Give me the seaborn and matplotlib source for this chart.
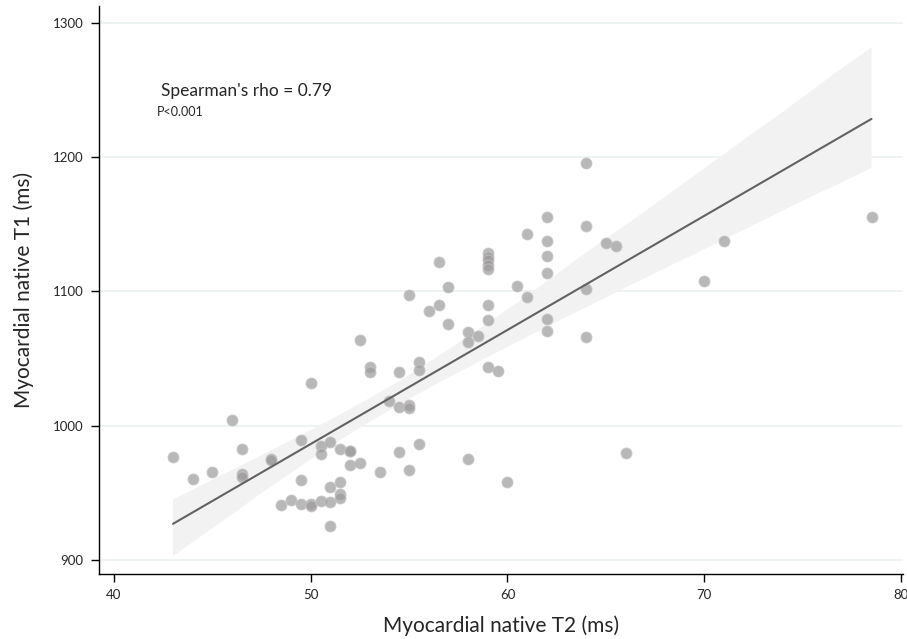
import matplotlib
matplotlib.use('Agg')
import matplotlib.pyplot as plt
import seaborn as sns
import pandas as pd
from matplotlib.collections import PolyCollection

sns.set_style('white')
plt.rcParams['font.family'] = ['Lato', 'DejaVu Sans']

# myocardial native T2 (ms) and T1 (ms)
t2_ms = [43, 44, 45, 46, 46.5, 46.5, 46.5, 48, 48, 48.5, 49, 49.5, 49.5, 49.5,
         50, 50, 50, 50.5, 50.5, 50.5, 51, 51, 51, 51, 51.5, 51.5, 51.5, 51.5,
         52, 52, 52, 52.5, 52.5, 53, 53, 53.5, 54, 54.5, 54.5, 54.5,
         55, 55, 55, 55, 55.5, 55.5, 55.5, 56, 56.5, 56.5, 57, 57,
         58, 58, 58, 58.5, 59, 59, 59, 59, 59, 59, 59, 59, 59.5, 60, 60.5,
         61, 61, 62, 62, 62, 62, 62, 62, 64, 64, 64, 64, 65, 65.5, 66,
         70, 71, 78.5]
t1_ms = [976.5, 960, 965.5, 1004, 982.5, 964, 961.5, 975.5, 974.5, 941, 945, 989.5, 959.5, 941.5,
         1031.5, 942, 940, 985, 979, 944, 987.5, 954, 943.5, 925, 983, 958, 949.5, 946,
         981.5, 981, 971, 1064, 972.5, 1043.5, 1040, 965.5, 1018.5, 1040, 1014, 980.5,
         1097.5, 1015.5, 1013.5, 967, 1047.5, 1041.5, 986.5, 1085.5, 1121.5, 1090, 1103, 1075.5,
         1070, 1062, 975.5, 1066.5, 1128.5, 1125.5, 1123, 1119.5, 1116.5, 1089.5, 1078.5, 1043.5, 1041, 958, 1104,
         1142.5, 1096, 1155, 1137.5, 1126, 1114, 1079.5, 1070.5, 1195.5, 1148.5, 1102, 1066, 1136, 1133.5, 980,
         1107.5, 1137.5, 1155]

x_ticks = [40, 50, 60, 70, 80]
y_ticks = [900, 1000, 1100, 1200, 1300]
rho_text = "Spearman's rho = 0.79"
p_text = 'P<0.001'

df = pd.DataFrame({'t2': t2_ms, 't1': t1_ms})

fig = plt.figure(figsize=(9.07, 6.39), dpi=100)
ax = fig.add_axes([99 / 907, 1 - 574 / 639, (903 - 99) / 907, (574 - 6) / 639])

sns.regplot(data=df, x='t2', y='t1', ax=ax, ci=95, n_boot=2000, seed=7,
            scatter_kws=dict(s=62, color='#9c9a9a', alpha=0.7, edgecolor='#c4c2c2',
                             linewidths=0.8, zorder=3),
            line_kws=dict(color='#626262', lw=1.5, zorder=4))

# lighter confidence band, behind the points
for coll in ax.collections:
    if isinstance(coll, PolyCollection):
        coll.set_facecolor('#f2f2f2')
        coll.set_alpha(1)
        coll.set_edgecolor('none')
        coll.set_zorder(1)

ax.set_xlim(39.24, 80.1)
ax.set_ylim(889.6, 1312.4)
ax.set_xticks(x_ticks)
ax.set_yticks(y_ticks)
ax.yaxis.grid(True, color='#eef4f2', lw=1.4)
ax.set_axisbelow(True)

for side in ['top', 'right']:
    ax.spines[side].set_visible(False)
for side in ['left', 'bottom']:
    ax.spines[side].set_color('black')
    ax.spines[side].set_linewidth(1.0)
ax.tick_params(axis='both', direction='out', length=6, width=1, color='black',
               labelsize=9.5, pad=5, left=True, bottom=True)

ax.set_xlabel('Myocardial native T2 (ms)', fontsize=15, labelpad=10)
ax.set_ylabel('Myocardial native T1 (ms)', fontsize=15, labelpad=14)

ax.text(42.37, 1249.4, rho_text, fontsize=12.5, va='center', ha='left')
ax.text(42.2, 1233.8, p_text, fontsize=9, va='center', ha='left')

fig.savefig('out.png', dpi=100)
